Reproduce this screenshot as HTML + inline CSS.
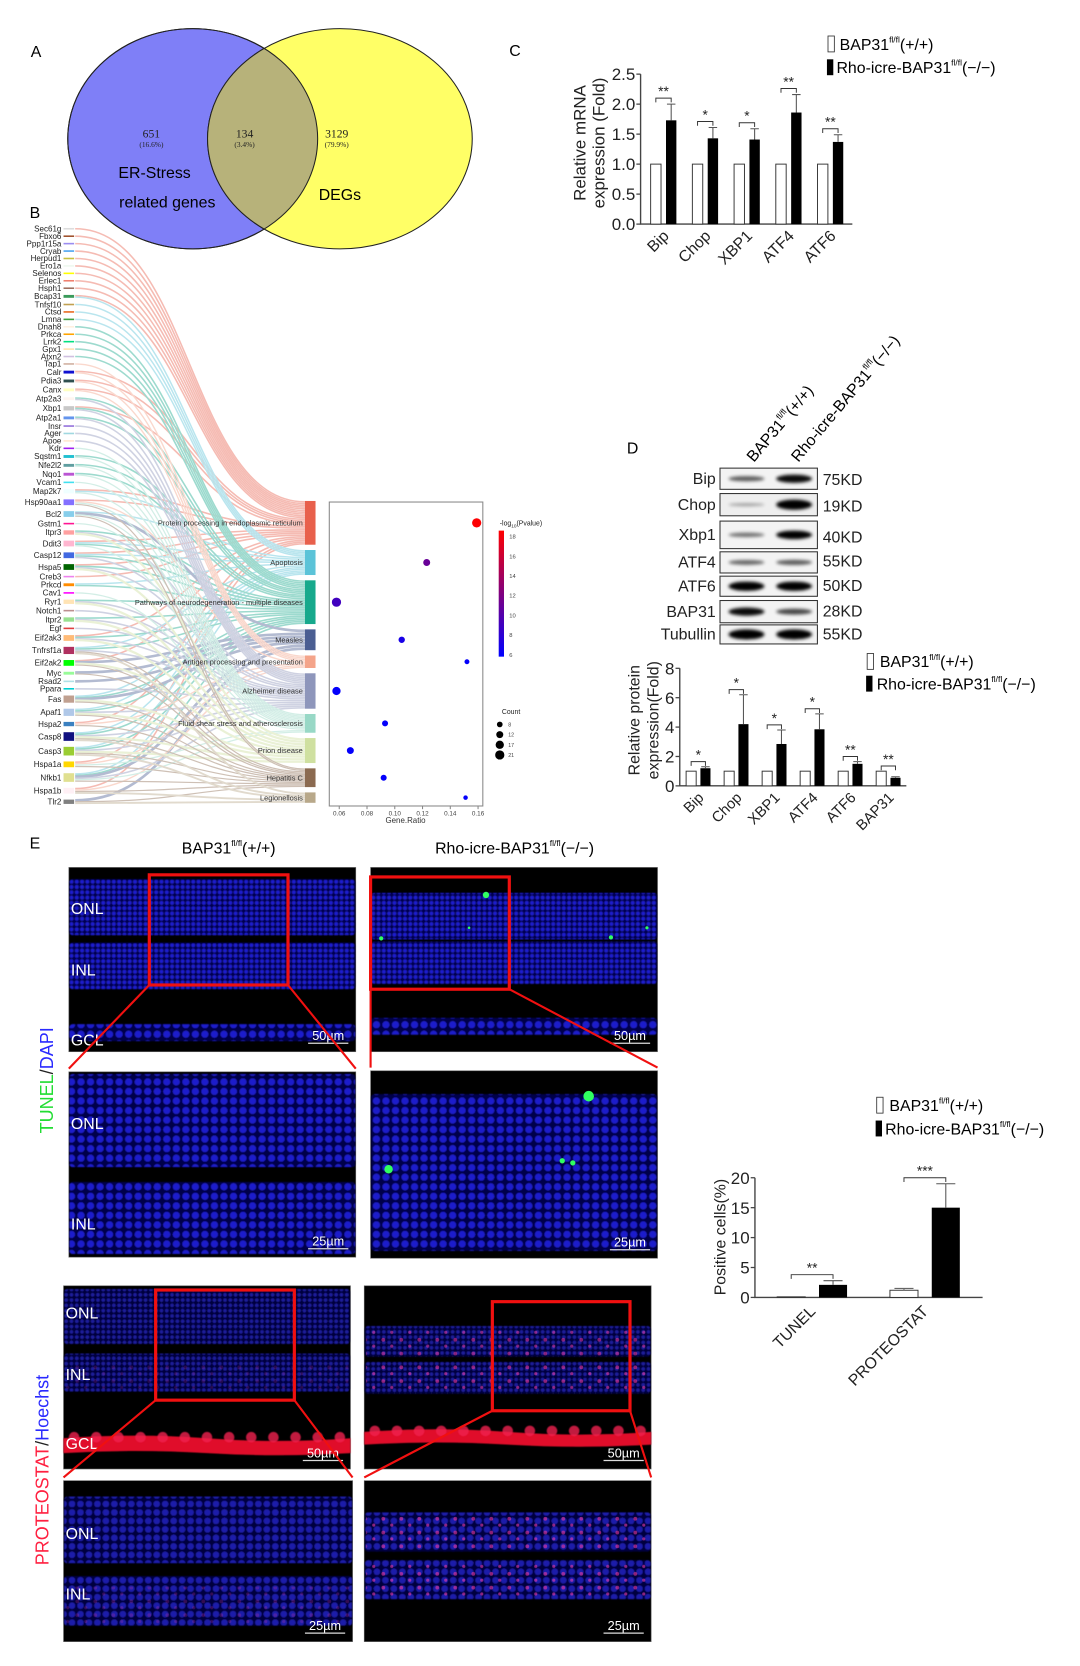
<!DOCTYPE html>
<html><head><meta charset="utf-8">
<style>
html,body{margin:0;padding:0;background:#fff;}
svg{display:block;font-family:"Liberation Sans",Arial,sans-serif;}
</style></head>
<body>
<svg id="fig" width="1080" height="1666" viewBox="0 0 1020 1573" preserveAspectRatio="none" xmlns="http://www.w3.org/2000/svg">
<defs>
<filter id="blur1" x="-20%" y="-100%" width="140%" height="300%"><feGaussianBlur stdDeviation="1.6"/></filter>
<filter id="blur05"><feGaussianBlur stdDeviation="0.6"/></filter>
<filter id="blur2" x="-10%" y="-50%" width="120%" height="200%"><feGaussianBlur stdDeviation="1.5"/></filter>
<pattern id="nucS" width="5" height="5" patternUnits="userSpaceOnUse"><rect width="5" height="5" fill="#06064e"/><circle cx="2.5" cy="2.5" r="1.8" fill="#1f1fd0"/></pattern>
<pattern id="nucL" width="9" height="9" patternUnits="userSpaceOnUse"><rect width="9" height="9" fill="#06064a"/><circle cx="4.5" cy="4.5" r="3.4" fill="#1e1ecc"/></pattern>
<pattern id="pnucS" width="5" height="5" patternUnits="userSpaceOnUse"><rect width="5" height="5" fill="#05053a"/><circle cx="2.5" cy="2.5" r="1.7" fill="#1a1a9c"/></pattern>
<pattern id="pnucL" width="8" height="8" patternUnits="userSpaceOnUse"><rect width="8" height="8" fill="#05053e"/><circle cx="4" cy="4" r="3.1" fill="#1c1caa"/></pattern>
<pattern id="pink" width="17" height="13" patternUnits="userSpaceOnUse"><circle cx="5" cy="4" r="1.8" fill="#ff3aa0"/><circle cx="13" cy="10" r="1.5" fill="#ff40b0"/></pattern>
</defs>

<!-- Panel A: Venn -->
<g>
<text x="29" y="54" font-size="15">A</text>
<ellipse cx="182" cy="131" rx="118" ry="104" fill="#7f7ff7" stroke="#222" stroke-width="1"/>
<ellipse cx="321" cy="131" rx="125" ry="104" fill="#ffff66" stroke="#222" stroke-width="1"/>
<clipPath id="vclip"><ellipse cx="182" cy="131" rx="118" ry="104"/></clipPath>
<ellipse cx="321" cy="131" rx="125" ry="104" fill="#b7b27a" stroke="#222" stroke-width="1" clip-path="url(#vclip)"/>
<ellipse cx="182" cy="131" rx="118" ry="104" fill="none" stroke="#222" stroke-width="1"/>
<g font-family="'Liberation Serif',serif" text-anchor="middle" fill="#222">
<text x="143" y="130" font-size="11">651</text>
<text x="143" y="139" font-size="7">(16.6%)</text>
<text x="231" y="130" font-size="11">134</text>
<text x="231" y="139" font-size="7">(3.4%)</text>
<text x="318" y="130" font-size="11">3129</text>
<text x="318" y="139" font-size="7">(79.9%)</text>
</g>
<text x="146" y="168" font-size="15" text-anchor="middle">ER-Stress</text>
<text x="158" y="196" font-size="15" text-anchor="middle">related genes</text>
<text x="321" y="189" font-size="15" text-anchor="middle">DEGs</text>
</g>

<text x="28" y="206" font-size="15">B</text>
<g id="sankey"></g>
<g id="bubble"></g>

<!-- Panel C -->
<text x="481" y="53" font-size="15">C</text>
<g id="chartC"></g>
<g font-size="15">
<rect x="782" y="34" width="6" height="15" fill="#fff" stroke="#333" stroke-width="0.8"/>
<text x="793" y="47">BAP31<tspan font-size="8" dy="-7">fl/fl</tspan><tspan dy="7">(+/+)</tspan></text>
<rect x="781" y="56" width="6" height="15" fill="#000"/>
<text x="790" y="69">Rho-icre-BAP31<tspan font-size="8" dy="-7">fl/fl</tspan><tspan dy="7">(−/−)</tspan></text>
</g>

<!-- Panel D -->
<text x="592" y="428" font-size="15">D</text>
<text transform="translate(712,437) rotate(-50)" font-size="15">BAP31<tspan font-size="8" dy="-7">fl/fl</tspan><tspan dy="7">(+/+)</tspan></text>
<text transform="translate(754,437) rotate(-50)" font-size="15">Rho-icre-BAP31<tspan font-size="8" dy="-7">fl/fl</tspan><tspan dy="7">(−/−)</tspan></text>
<g id="blots"></g>
<g id="chartD"></g>
<g font-size="15">
<rect x="819" y="617" width="6" height="15" fill="#fff" stroke="#333" stroke-width="0.8"/>
<text x="831" y="630">BAP31<tspan font-size="8" dy="-7">fl/fl</tspan><tspan dy="7">(+/+)</tspan></text>
<rect x="818" y="638" width="6" height="15" fill="#000"/>
<text x="828" y="651">Rho-icre-BAP31<tspan font-size="8" dy="-7">fl/fl</tspan><tspan dy="7">(−/−)</tspan></text>
</g>

<!-- Panel E -->
<text x="28" y="801" font-size="15">E</text>
<text x="216" y="806" font-size="15" text-anchor="middle">BAP31<tspan font-size="8" dy="-7">fl/fl</tspan><tspan dy="7">(+/+)</tspan></text>
<text x="486" y="806" font-size="15" text-anchor="middle">Rho-icre-BAP31<tspan font-size="8" dy="-7">fl/fl</tspan><tspan dy="7">(−/−)</tspan></text>
<text transform="translate(50,1020) rotate(-90)" font-size="17" text-anchor="middle"><tspan fill="#22dd33">TUNEL</tspan><tspan fill="#222">/</tspan><tspan fill="#2a2aff">DAPI</tspan></text>
<text transform="translate(46,1388) rotate(-90)" font-size="17" text-anchor="middle"><tspan fill="#ff2040">PROTEOSTAT</tspan><tspan fill="#222">/</tspan><tspan fill="#2a2aff">Hoechst</tspan></text>
<g id="micro"></g>
<g id="chartE"></g>
<g font-size="15">
<rect x="828" y="1036" width="6" height="15" fill="#fff" stroke="#333" stroke-width="0.8"/>
<text x="840" y="1049">BAP31<tspan font-size="8" dy="-7">fl/fl</tspan><tspan dy="7">(+/+)</tspan></text>
<rect x="827" y="1058" width="6" height="15" fill="#000"/>
<text x="836" y="1071">Rho-icre-BAP31<tspan font-size="8" dy="-7">fl/fl</tspan><tspan dy="7">(−/−)</tspan></text>
</g>
</svg>

<script>
// ---------- DATA ----------
const genes = ["Sec61g","Fbxo6","Ppp1r15a","Cryab","Herpud1","Ero1a","Selenos","Erlec1","Hsph1","Bcap31","Tnfsf10","Ctsd","Lmna","Dnah8","Prkca","Lrrk2","Gpx1","Atxn2","Tap1","Calr","Pdia3","Canx","Atp2a3","Xbp1","Atp2a1","Insr","Ager","Apoe","Kdr","Sqstm1","Nfe2l2","Nqo1","Vcam1","Map2k7","Hsp90aa1","Bcl2","Gstm1","Itpr3","Ddit3","Casp12","Hspa5","Creb3","Prkcd","Cav1","Ryr1","Notch1","Itpr2","Egf","Eif2ak3","Tnfrsf1a","Eif2ak2","Myc","Rsad2","Ppara","Fas","Apaf1","Hspa2","Casp8","Casp3","Hspa1a","Nfkb1","Hspa1b","Tlr2"];
const geneColors = ["#dddddd","#a0522d","#9b8cf0","#4aa3f0","#c8c040","#eef8ee","#ffff00","#f08070","#a07060","#3a9a5a","#c0a050","#e86a20","#40a040","#fff0e0","#ffa500","#00e080","#ffe0b0","#d0c0e0","#d0b0a0","#1010d0","#2f4f4f","#ffffc0","#fff5f0","#c8c8c8","#6495ed","#9370db","#a0d8e0","#ffe8d0","#a020f0","#20c0d0","#5f9ea0","#ba55d3","#40e0f0","#f0ffff","#8470ff","#87ceeb","#ff1493","#ffa0a0","#ffb6d0","#4169e1","#006400","#ee82ee","#ff8c00","#ff00ff","#ffe4b5","#bc8f8f","#98e090","#e04040","#ffbb77","#b03060","#00ff00","#98fb98","#b0e0e6","#00ced1","#c0a090","#b0c8e8","#3a80c0","#101080","#9acd32","#ffd700","#e0e090","#fff0f5","#808080"];
const geneLinks = ["0","0","0","0","0","0","0","0","0","01","1","1","1","2","2","2","2","2","4","04","04","04","25","025","25","5","5","5","6","26","26","26","6","016","0468","1368","6","257","0126","0125","0257","0","12","6","257","5","257","5","0257","12589","0378","38","3","5","12378","12578","048","125789","125789","0468","123568","0489","389"];
const pathways = ["Protein processing in endoplasmic reticulum","Apoptosis","Pathways of neurodegeneration - multiple diseases","Measles","Antigen processing and presentation","Alzheimer disease","Fluid shear stress and atherosclerosis","Prion disease","Hepatitis C","Legionellosis"];
const pathColors = ["#e8604c","#5bc3d8","#17a98c","#4b5e92","#f4a48a","#8e96bb","#98d8c6","#cfe0a0","#8b6a50","#b8a88a"];
const pathCounts = [21,12,21,10,6,17,9,12,9,5];
const geneRatio = [0.159,0.123,0.058,0.105,0.152,0.058,0.093,0.068,0.092,0.151];
const negLogP = [18.5,11,9,7,6,6,6,6,6,6];
const ratioTicks = [0.06,0.08,0.10,0.12,0.14,0.16];
const pTicks = [6,8,10,12,14,16,18];
const countLegend = [8,12,17,21];

const cCats = ["Bip","Chop","XBP1","ATF4","ATF6"];
const cWT = [1,1,1,1,1];
const cKO = [1.73,1.43,1.41,1.86,1.37];
const cErr = [0.27,0.18,0.18,0.30,0.12];
const cSig = ["**","*","*","**","**"];
const cTicks = [0,0.5,1.0,1.5,2.0,2.5];

const dCats = ["Bip","Chop","XBP1","ATF4","ATF6","BAP31"];
const dWT = [1,1,1,1,1,1];
const dKO = [1.2,4.2,2.85,3.85,1.5,0.55];
const dErr = [0.1,2.0,0.95,1.05,0.15,0.07];
const dSig = ["*","*","*","*","**","**"];
const dTicks = [0,2,4,6,8];

const eCats = ["TUNEL","PROTEOSTAT"];
const eWT = [0.1,1.2];
const eWTErr = [0,0.3];
const eKO = [2.1,15];
const eErr = [0.7,4];
const eSig = ["**","***"];
const eTicks = [0,5,10,15,20];

const blotNames = ["Bip","Chop","Xbp1","ATF4","ATF6","BAP31","Tubullin"];
const blotKD = ["75KD","19KD","40KD","55KD","50KD","28KD","55KD"];
const blotWT = [0.35,0.03,0.25,0.3,0.9,0.75,1.0];
const blotKO = [0.75,1.0,0.8,0.35,0.9,0.45,1.0];

// ---------- HELPERS ----------
const NS="http://www.w3.org/2000/svg";
function mk(parent, tag, attrs, txt){
  const el=document.createElementNS(NS,tag);
  for(const k in attrs) el.setAttribute(k,attrs[k]);
  if(txt!==undefined) el.textContent=txt;
  parent.appendChild(el);
  return el;
}

// ---------- SANKEY ----------
(function(){
  const g=document.getElementById('sankey');
  const gy0=216, gy1=757;
  const counts=geneLinks.map(s=>s.length);
  const unit=1.25, base=5.2;
  let tot=0; counts.forEach(c=>tot+=base+c*unit);
  const sc=(gy1-gy0)/(tot-base-counts[counts.length-1]*unit/2-counts[0]*unit/2);
  const gyc=[]; let acc=gy0;
  counts.forEach((c,i)=>{ if(i>0){acc+= (base+ (counts[i-1]*unit)/2 + (c*unit)/2)*sc;} gyc.push(acc); });
  const py0=473, py1=758, gap=5;
  let psum=0; pathCounts.forEach(c=>psum+=c);
  const pu=(py1-py0-gap*(pathCounts.length-1))/psum;
  const pTop=[], pH=[]; let pa=py0;
  pathCounts.forEach(c=>{pTop.push(pa); pH.push(c*pu); pa+=c*pu+gap;});
  window.pathCenters=pTop.map((t,i)=>t+pH[i]/2);
  const linksPer=pathways.map(()=>[]);
  geneLinks.forEach((s,gi)=>{ s.split('').forEach((ch,k)=>linksPer[+ch].push([gi,k,s.length])); });
  const lg=mk(g,'g',{opacity:0.42,fill:'none'});
  
  
  linksPer.forEach((arr,pi)=>{
    const w=pH[pi]/arr.length;
    arr.forEach((lk,j)=>{
      const [gi,k,n]=lk;
      const gh=Math.max(1.5,n*unit*sc);
      const sy=gyc[gi]-gh/2+gh*(k+0.5)/n;
      const ty=pTop[pi]+w*(j+0.5);
      const x0=71,x1=288,mx=(x0+x1)/2;
      const p=mk(lg,'path',{d:`M${x0},${sy} C${mx},${sy} ${mx},${ty} ${x1},${ty}`,stroke:pathColors[pi],'stroke-width':Math.max(1,w*0.9)});
      
      
    });
  });
  genes.forEach((name,i)=>{
    const h=Math.max(1.5,counts[i]*unit*sc);
    const r=mk(g,'rect',{x:60,y:gyc[i]-h/2,width:10,height:h,fill:geneColors[i]});
    
    
    const t=mk(g,'text',{x:58,y:gyc[i]+2.6,'font-size':7.6,'text-anchor':'end',fill:'#222'},name);
    
    
  });
  pathways.forEach((name,i)=>{
    const r=mk(g,'rect',{x:288,y:pTop[i],width:10,height:pH[i],fill:pathColors[i]});
    
    
    const t=mk(g,'text',{x:286,y:pTop[i]+pH[i]/2+2.5,'font-size':7,'text-anchor':'end',fill:'#333'},name);
    
    
  });
})();

// ---------- BUBBLE ----------
(function(){
  const g=document.getElementById('bubble');
  const x=v=>320.4+(v-0.06)*(451.5-320.4)/0.10;
  const fr=mk(g,'rect',{x:311,y:474,width:145,height:287,fill:'#fff',stroke:'#888','stroke-width':1});
  
  
  ratioTicks.forEach(v=>{
    const l=mk(g,'line',{x1:x(v),x2:x(v),y1:761,y2:764,stroke:'#888'});
    
    
    const t=mk(g,'text',{x:x(v),y:770,'font-size':6,'text-anchor':'middle',fill:'#444'},v.toFixed(2));
    
    
  });
  const xt=mk(g,'text',{x:383,y:777,'font-size':7.5,'text-anchor':'middle',fill:'#333'},'Gene.Ratio');
  
  
  const cmin=5.8,cmax=18.6;
  const col=v=>{const f=Math.max(0,Math.min(1,(v-cmin)/(cmax-cmin)));return `rgb(${Math.round(255*f)},0,${Math.round(255*(1-f))})`;};
  const rad=c=>Math.sqrt(c)*0.95;
  geneRatio.forEach((r,i)=>{
    const c=mk(g,'circle',{cx:x(r),cy:window.pathCenters[i],r:rad(pathCounts[i]),fill:col(negLogP[i])});
    
    
  });
  const lgid='cbgrad';
  const defs=document.querySelector('defs');
  const grad=mk(defs,'linearGradient',{id:lgid,x1:0,y1:1,x2:0,y2:0});
  mk(grad,'stop',{offset:0,'stop-color':'#0000ff'});
  mk(grad,'stop',{offset:1,'stop-color':'#ff0000'});
  const cy0=620,cy1=501;
  const cb=mk(g,'rect',{x:471,y:cy1,width:5,height:cy0-cy1,fill:'url(#'+lgid+')'});
  
  
  const cys=v=>cy0-(v-cmin)*(cy0-cy1)/(cmax-cmin);
  pTicks.forEach(v=>{
    const t=mk(g,'text',{x:481,y:cys(v)+2,'font-size':5.5,fill:'#444'},String(v));
    
    
  });
  const ct=mk(g,'text',{x:472,y:496,'font-size':6.5,fill:'#222'});
  
  
  ct.innerHTML='-log<tspan font-size="4.5" dy="2">10</tspan><tspan dy="-2">(Pvalue)</tspan>';
  const lt=mk(g,'text',{x:474,y:674,'font-size':6.5,fill:'#222'},'Count');
  
  
  countLegend.forEach((c,i)=>{
    const yy=684+i*9.6;
    const cc=mk(g,'circle',{cx:472,cy:yy,r:rad(c),fill:'#000'});
    
    
    const t=mk(g,'text',{x:480,y:yy+2,'font-size':5,fill:'#444'},String(c));
    
    
  });
})();

// ---------- BAR CHART HELPER ----------
function barChart(gid,o){
  const g=document.getElementById(gid);
  const y=v=>o.y0-(v-o.vmin)*(o.y0-o.y1)/(o.vmax-o.vmin);
  const ax=mk(g,'path',{d:`M${o.ax},${o.y1} V${o.y0} H${o.axEnd}`,stroke:'#444','stroke-width':1.3,fill:'none'});
  
  
  o.ticks.forEach(v=>{
    const l=mk(g,'line',{x1:o.ax-4,x2:o.ax,y1:y(v),y2:y(v),stroke:'#444','stroke-width':1.2});
    
    
    const t=mk(g,'text',{x:o.ax-5,y:y(v)+o.fs*0.36,'font-size':o.fs,'text-anchor':'end',fill:'#222'},o.fmt(v));
    
    
  });
  o.cats.forEach((c,i)=>{
    const x0=o.first+i*o.step;
    const wx=x0, kx=x0+o.koOff, bw=o.bw;
    const wb=mk(g,'rect',{x:wx,y:y(o.wt[i]),width:bw,height:y(0)-y(o.wt[i]),fill:'#fff',stroke:'#333','stroke-width':0.9});
    
    
    if(o.wtErr && o.wtErr[i]>0){
      const e=mk(g,'path',{d:`M${wx+bw/2},${y(o.wt[i])} V${y(o.wt[i]+o.wtErr[i])} M${wx+bw/2-o.cap},${y(o.wt[i]+o.wtErr[i])} H${wx+bw/2+o.cap}`,stroke:'#666','stroke-width':1,fill:'none'});
      
      
    }
    const kb=mk(g,'rect',{x:kx,y:y(o.ko[i]),width:bw,height:y(0)-y(o.ko[i]),fill:'#000'});
    
    
    const top=o.ko[i]+o.err[i];
    const e=mk(g,'path',{d:`M${kx+bw/2},${y(o.ko[i])} V${y(top)} M${kx+bw/2-o.cap},${y(top)} H${kx+bw/2+o.cap}`,stroke:'#555','stroke-width':1,fill:'none'});
    
    
    const wtTop=o.wt[i]+(o.wtErr?o.wtErr[i]:0);
    const by=y(Math.max(top,wtTop)+o.brGap);
    const b=mk(g,'path',{d:`M${wx+bw/2},${by+4} V${by} H${kx+bw/2} V${by+4}`,stroke:'#333','stroke-width':0.9,fill:'none'});
    
    
    const st=mk(g,'text',{x:(wx+kx+bw)/2,y:by+o.starDy,'font-size':o.starFs,'text-anchor':'middle',fill:'#222'},o.sig[i]);
    
    
    const cx=(wx+kx+bw)/2+o.lblDx;
    const t=mk(g,'text',{x:cx,y:o.y0+o.lblDy,'font-size':o.lfs,'text-anchor':'end',fill:'#222',transform:`rotate(-45 ${cx} ${o.y0+o.lblDy})`},c);
    
    
  });
  o.ytitle.forEach((s,k)=>{
    const tx=o.ytx+k*o.ytGap;
    const t=mk(g,'text',{x:tx,y:o.yty,'font-size':o.yfs,'text-anchor':'middle',fill:'#222',transform:`rotate(-90 ${tx} ${o.yty})`},s);
    
    
  });
}

barChart('chartC',{y0:211.6,y1:70,vmin:0,vmax:2.5,ax:605,axEnd:805,ticks:cTicks,fmt:v=>v.toFixed(1),fs:16,
  cats:cCats,wt:cWT,ko:cKO,err:cErr,sig:cSig,first:614.5,step:39.4,koOff:14.5,bw:9.8,cap:4,brGap:0.1,starDy:-2,starFs:13,
  lblDx:6,lblDy:12,lfs:15,ytitle:["Relative mRNA","expression (Fold)"],ytx:553,ytGap:18,yty:135,yfs:16});

barChart('chartD',{y0:742,y1:631,vmin:0,vmax:8,ax:642,axEnd:856,ticks:dTicks,fmt:v=>String(v),fs:16,
  cats:dCats,wt:dWT,ko:dKO,err:dErr,sig:dSig,first:648,step:35.9,koOff:13.5,bw:9.5,cap:4,brGap:0.35,starDy:-2,starFs:13,
  lblDx:6,lblDy:12,lfs:14,ytitle:["Relative protein","expression(Fold)"],ytx:604,ytGap:18,yty:680,yfs:15});

barChart('chartE',{y0:1225,y1:1112,vmin:0,vmax:20,ax:713,axEnd:928,ticks:eTicks,fmt:v=>String(v),fs:16,
  cats:eCats,wt:eWT,wtErr:eWTErr,ko:eKO,err:eErr,sig:eSig,first:734,step:106.5,koOff:39.5,bw:26.5,cap:9,brGap:1.0,starDy:-2,starFs:13,
  lblDx:4,lblDy:14,lfs:15,ytitle:["Positive cells(%)"],ytx:685,ytGap:0,yty:1168,yfs:15});

// ---------- BLOTS ----------
(function(){
  const g=document.getElementById('blots');
  const rows=[[442,462],[466,487],[492,518],[521,541],[544,563],[567,588],[590,608]];
  const kdY=[453,478,507,530,553,577,599];
  rows.forEach((r,i)=>{
    const [t,b]=r;
    const bg=mk(g,'rect',{x:680,y:t,width:92,height:b-t,fill:i===1?'#eeeeee':'#f3f3f3',stroke:'#333','stroke-width':1});
    
    
    const cy=(t+b)/2;
    [[705,blotWT[i]],[750,blotKO[i]]].forEach(([cx,v],k)=>{
      const h=1.5+v*7, op=0.15+0.85*Math.min(1,v+0.2);
      const e=mk(g,'ellipse',{cx:cx,cy:cy,rx:17,ry:h/2+0.5,fill:'#000',opacity:op,filter:'url(#blur1)'});
      
      
    });
    const l=mk(g,'text',{x:676,y:cy+5,'font-size':15,'text-anchor':'end',fill:'#222'},blotNames[i]);
    
    
    const kd=mk(g,'text',{x:777,y:kdY[i]+5,'font-size':15,fill:'#222'},blotKD[i]);
    
    
  });
})();

// ---------- MICROSCOPY ----------
(function(){
  const g=document.getElementById('micro');
  function img(name,x,y,w,h,bands,opts){
    const gg=mk(g,'g',{});
    
    
    mk(gg,'rect',{x:x,y:y,width:w,height:h,fill:'#000',stroke:'#666','stroke-width':0.6});
    bands.forEach(b=>{
      const [t,bt,fill]=b;
      const a=mk(gg,'rect',{x:x+0.5,y:y+t,width:w-1,height:bt-t,fill:fill,rx:3,filter:'url(#blur05)'});
      
      
    });
    if(opts.red){
      const [a,b]=opts.red;
      const r=mk(gg,'path',{d:`M${x},${y+a+6} q${w/4},-5 ${w/2},0 t${w/2},0 V${y+b} q${-w/4},4 ${-w/2},0 t${-w/2},0 Z`,fill:'#e0102c',filter:'url(#blur05)'});
      
      
      for(let k=0;k<13;k++){
        const c=mk(gg,'ellipse',{cx:x+10+k*(w-20)/12,cy:y+a+5,rx:5,ry:5,fill:'#f02050',opacity:0.8,filter:'url(#blur05)'});
        
        
      }
    }
    if(opts.pink){
      opts.pink.forEach(b=>{
        const p=mk(gg,'rect',{x:x+2,y:y+b[0],width:w-4,height:b[1]-b[0],fill:'url(#pink)',opacity:b[2]});
        
        
      });
    }
    if(opts.green){
      opts.green.forEach(p=>{
        const c=mk(gg,'circle',{cx:x+p[0],cy:y+p[1],r:p[2],fill:'#30ff60'});
        
        
      });
    }
    (opts.labels||[]).forEach(l=>{
      const t=mk(gg,'text',{x:x+2,y:y+l[1],'font-size':15,fill:'#fff'},l[0]);
      
      
    });
    const sb=mk(gg,'line',{x1:x+w-45,x2:x+w-7,y1:y+h-8,y2:y+h-8,stroke:'#ddd','stroke-width':1.2});
    
    
    const st=mk(gg,'text',{x:x+w-26,y:y+h-11,'font-size':12,'text-anchor':'middle',fill:'#fff'},opts.scale);
    
    
  }
  img('tunel-wt-overview',65,819,271,174,[[11,64,'url(#nucS)'],[71,115,'url(#nucS)'],[148,164,'url(#nucL)']],{labels:[['ONL',44],['INL',102],['GCL',168]],scale:'50µm'});
  img('tunel-ko-overview',350,819,271,174,[[24,68,'url(#nucS)'],[70,110,'url(#nucS)'],[142,158,'url(#nucL)']],{green:[[109,26,3],[10,67,2],[227,66,2],[261,57,1.5],[93,57,1.2]],scale:'50µm'});
  img('tunel-wt-zoom',65,1012,271,175,[[2,90,'url(#nucL)'],[104,172,'url(#nucL)']],{labels:[['ONL',54],['INL',149]],scale:'25µm'});
  img('tunel-ko-zoom',350,1011,271,177,[[22,107,'url(#nucL)'],[102,170,'url(#nucL)']],{green:[[206,24,5],[17,93,4],[181,85,2.5],[191,87,2.5]],scale:'25µm'});
  img('proteostat-wt-overview',60,1214,271,173,[[3,55,'url(#pnucS)'],[64,100,'url(#pnucS)']],{red:[138,158],pink:[[75,100,0.15]],labels:[['ONL',31],['INL',89],['GCL',154]],scale:'50µm'});
  img('proteostat-ko-overview',344,1214,271,173,[[38,67,'url(#pnucS)'],[72,102,'url(#pnucS)']],{red:[132,150],pink:[[40,66,0.5],[74,100,0.55]],scale:'50µm'});
  img('proteostat-wt-zoom',60,1398,273,152,[[15,78,'url(#pnucL)'],[90,137,'url(#pnucL)']],{pink:[[100,135,0.2]],labels:[['ONL',55],['INL',112]],scale:'25µm'});
  img('proteostat-ko-zoom',344,1398,271,152,[[30,67,'url(#pnucL)'],[75,112,'url(#pnucL)']],{pink:[[32,65,0.55],[77,110,0.55]],scale:'25µm'});
  const boxes=[[141,826,131,104,65,336,1012],[350,828,131,106,350,621,1011],[147,1218,131,104,60,333,1398],[465,1229,130,103,344,615,1398]];
  boxes.forEach((b,i)=>{
    const [x,y,w,h,zx0,zx1,zy]=b;
    const r=mk(g,'rect',{x:x,y:y,width:w,height:h,fill:'none',stroke:'#f01010','stroke-width':3});
    
    
    const l=mk(g,'path',{d:`M${x},${y+h} L${zx0},${zy-3} M${x+w},${y+h} L${zx1},${zy-3}`,stroke:'#f01010','stroke-width':2,fill:'none'});
    
    
  });
})();
</script>
</body></html>
